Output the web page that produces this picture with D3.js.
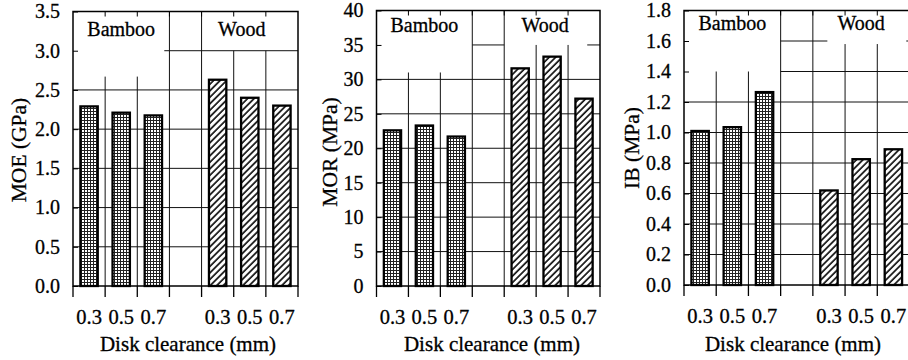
<!DOCTYPE html>
<html>
<head>
<meta charset="utf-8">
<script src="https://cdn.jsdelivr.net/npm/d3@7"></script>
<style>
  body { margin: 0; background: #fff; }
  svg { display: block; }
  text { font-family: "Liberation Serif", "Times New Roman", Times, serif; fill: #000; stroke: #000; stroke-width: 0.3px; }
</style>
</head>
<body>
<svg id="chart" width="908" height="360"></svg>
<script>
// ---- data ----
const groups = ["Bamboo", "Wood"];
const clearances = ["0.3", "0.5", "0.7"];

const moeBamboo = [2.29, 2.21, 2.175];
const moeWood   = [2.63, 2.40, 2.30];
const morBamboo = [22.6, 23.3, 21.7];
const morWood   = [31.6, 33.3, 27.2];
const ibBamboo  = [1.01, 1.035, 1.265];
const ibWood    = [0.62, 0.825, 0.89];

const yTitles = ["MOE (GPa)", "MOR (MPa)", "IB (MPa)"];
const yMax    = [3.5, 40, 1.8];
const yStep   = [0.5, 5, 0.2];
const xTitle  = "Disk clearance (mm)";

// seven slots: three bamboo clearances, an empty spacer, three wood clearances
const slots = [
  ...clearances.map(c => groups[0] + "|" + c),
  "gap",
  ...clearances.map(c => groups[1] + "|" + c)
];

// panel geometry and grid layout (grid segments given in slot-edge units)
const panels = [
  {
    title: yTitles[0], max: yMax[0], step: yStep[0], fmt: d3.format(".1f"),
    bamboo: moeBamboo, wood: moeWood,
    left: 73, right: 298, top: 11.5, bottom: 286,
    titleX: 26, titleY: 150, xTitleX: 188,
    headY: 36, woodAt: 5.25,
    vStart: [2.67, 2.67, null, null, 3.0, 3.0],
    hSeg: { 6: [[2.84, 7]] }
  },
  {
    title: yTitles[1], max: yMax[1], step: yStep[1], fmt: d3.format("d"),
    bamboo: morBamboo, wood: morWood,
    left: 376.5, right: 600, top: 10.5, bottom: 286,
    titleX: 337, titleY: 152, xTitleX: 492,
    headY: 31.5, woodAt: 5.28,
    vStart: [31.0, 31.0, null, null, 35, 35],
    hSeg: { 7: [[3, 4], [6.6, 7]] }
  },
  {
    title: yTitles[2], max: yMax[2], step: yStep[2], fmt: d3.format(".1f"),
    bamboo: ibBamboo, wood: ibWood,
    left: 684, right: 909.5, top: 10.5, bottom: 285,
    titleX: 639, titleY: 148, xTitleX: 793,
    headY: 30, woodAt: 5.5,
    vStart: [1.4, 1.4, null, null, 1.58, 1.58],
    hSeg: { 8: [[3, 4.45], [6.9, 7]], 7: [[3, 7]] }
  }
];

const svg = d3.select("#chart");
svg.append("rect").attr("width", 908).attr("height", 360).attr("fill", "#fff");

// fill patterns: fine square mesh for bamboo, diagonal hatching for wood
const defs = svg.append("defs");
const mesh = defs.append("pattern")
  .attr("id", "mesh").attr("patternUnits", "userSpaceOnUse")
  .attr("width", 3).attr("height", 3);
mesh.append("rect").attr("width", 3).attr("height", 3).attr("fill", "#fff");
mesh.append("rect").attr("x", 0).attr("y", 0).attr("width", 3).attr("height", 1).attr("fill", "#222");
mesh.append("rect").attr("x", 0).attr("y", 0).attr("width", 1).attr("height", 3).attr("fill", "#222");

const hatch = defs.append("pattern")
  .attr("id", "hatch").attr("patternUnits", "userSpaceOnUse")
  .attr("width", 4.6).attr("height", 4.6)
  .attr("patternTransform", "rotate(45)");
hatch.append("rect").attr("width", 4.6).attr("height", 4.6).attr("fill", "#fff");
hatch.append("line").attr("x1", 1).attr("y1", 0).attr("x2", 1).attr("y2", 4.6)
  .attr("stroke", "#111").attr("stroke-width", 1.7);

panels.forEach(p => {
  const g = svg.append("g");
  const y = d3.scaleLinear().domain([0, p.max]).range([p.bottom, p.top]);
  const band = d3.scaleBand().domain(slots).range([p.left, p.right])
    .paddingInner(0.46).paddingOuter(0.23);
  const edge = d3.scaleLinear().domain([0, slots.length]).range([p.left, p.right]);
  const ticks = d3.range(0, p.max + p.step / 2, p.step);

  // horizontal grid lines
  const grid = g.append("g").attr("stroke", "#111").attr("stroke-width", 1);
  ticks.forEach((t, i) => {
    if (i === 0 || i === ticks.length - 1) return;
    const segs = p.hSeg[i] || [[0, slots.length]];
    segs.forEach(([a, b]) => {
      grid.append("line")
        .attr("x1", edge(a)).attr("x2", edge(b))
        .attr("y1", y(t)).attr("y2", y(t));
    });
  });

  // vertical grid lines at slot edges
  p.vStart.forEach((v, k) => {
    const top = v === null ? p.max : v;
    grid.append("line")
      .attr("x1", edge(k + 1)).attr("x2", edge(k + 1))
      .attr("y1", y(top)).attr("y2", y(0));
  });

  // bars
  const rows = [
    ...clearances.map((c, i) => ({ slot: groups[0] + "|" + c, v: p.bamboo[i], fill: "url(#mesh)" })),
    ...clearances.map((c, i) => ({ slot: groups[1] + "|" + c, v: p.wood[i], fill: "url(#hatch)" }))
  ];
  g.append("g").selectAll("rect").data(rows).join("rect")
    .attr("x", d => band(d.slot))
    .attr("width", band.bandwidth())
    .attr("y", d => y(d.v))
    .attr("height", d => y(0) - y(d.v))
    .attr("fill", d => d.fill)
    .attr("stroke", "#000").attr("stroke-width", 2.3);

  // frame
  g.append("rect")
    .attr("x", p.left).attr("y", p.top)
    .attr("width", p.right - p.left).attr("height", p.bottom - p.top)
    .attr("fill", "none").attr("stroke", "#000").attr("stroke-width", 1.5);

  // inward ticks along the top edge
  d3.range(1, slots.length).forEach(k => {
    g.append("line").attr("stroke", "#000").attr("stroke-width", 1)
      .attr("x1", edge(k)).attr("x2", edge(k))
      .attr("y1", p.top).attr("y2", p.top + 5);
  });

  // outward ticks along the bottom edge
  d3.range(0, slots.length + 1).forEach(k => {
    g.append("line").attr("stroke", "#000").attr("stroke-width", 1.3)
      .attr("x1", edge(k)).attr("x2", edge(k))
      .attr("y1", p.bottom).attr("y2", p.bottom + 11);
  });

  // y axis
  const ya = g.append("g").attr("transform", `translate(${p.left},0)`)
    .call(d3.axisLeft(y).tickValues(ticks).tickFormat(p.fmt).tickSize(-5).tickPadding(13));
  ya.select(".domain").remove();
  ya.selectAll("line").attr("stroke", "#000");
  ya.selectAll("text").attr("font-size", 20)
    .attr("font-family", "'Liberation Serif','Times New Roman',serif");

  // x axis labels
  const xa = g.append("g").attr("transform", `translate(0,${p.bottom})`)
    .call(d3.axisBottom(band).tickSize(0).tickPadding(23)
      .tickFormat(d => d === "gap" ? "" : d.split("|")[1]));
  xa.select(".domain").remove();
  xa.selectAll("text").attr("font-size", 20.5)
    .attr("font-family", "'Liberation Serif','Times New Roman',serif");

  // group headers
  g.append("text").attr("x", edge(1.5)).attr("y", p.headY)
    .attr("text-anchor", "middle").attr("font-size", 20).text(groups[0]);
  g.append("text").attr("x", edge(p.woodAt)).attr("y", p.headY)
    .attr("text-anchor", "middle").attr("font-size", 20).text(groups[1]);

  // axis titles
  g.append("text")
    .attr("transform", `translate(${p.titleX},${p.titleY}) rotate(-90)`)
    .attr("text-anchor", "middle").attr("font-size", 21.5).text(p.title);
  g.append("text").attr("x", p.xTitleX).attr("y", 351)
    .attr("text-anchor", "middle").attr("font-size", 21).text(xTitle);
});
</script>
</body>
</html>
